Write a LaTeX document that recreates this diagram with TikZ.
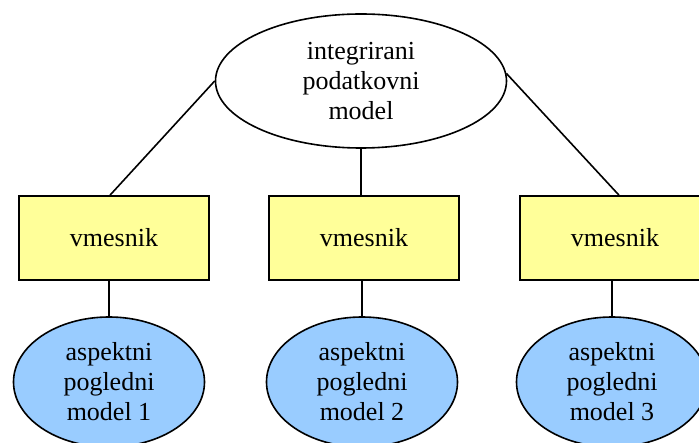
\documentclass[tikz,border=0pt]{standalone}
\usepackage{fontspec}
\setmainfont{Liberation Serif}
\usetikzlibrary{shapes.geometric}
\definecolor{boxyellow}{HTML}{FFFF99}
\definecolor{ellblue}{HTML}{99CCFF}
\begin{document}
\begin{tikzpicture}[x=1pt,y=-1pt,
  every node/.style={font=\fontsize{26}{30}\selectfont, align=center, inner sep=0pt},
  topell/.style={ellipse, draw=black, line width=1.6pt, fill=white, minimum width=291pt, minimum height=134pt},
  midbox/.style={rectangle, draw=black, line width=1.6pt, fill=boxyellow, minimum width=190pt, minimum height=84pt},
  aspell/.style={ellipse, draw=black, line width=1.6pt, fill=ellblue, minimum width=191pt, minimum height=130pt},
  conn/.style={draw=black, line width=1.6pt}]
\useasboundingbox (0,0) rectangle (699,443);
\node[topell] (top) at (361,81) {integrirani\\podatkovni\\model};
\node[midbox] (b1) at (114,238) {vmesnik};
\node[midbox] (b2) at (364,238) {vmesnik};
\node[midbox] (b3) at (615,238) {vmesnik};
\node[aspell] (e1) at (109,382) {aspektni\\pogledni\\model 1};
\node[aspell] (e2) at (362,382) {aspektni\\pogledni\\model 2};
\node[aspell] (e3) at (612,382) {aspektni\\pogledni\\model 3};
\path[conn] (top.180) -- ([xshift=-4pt]b1.north);
\path[conn] (top.south) -- (top.south |- b2.north);
\path[conn] (top.3) -- ([xshift=4pt]b3.north);
\path[conn] (e1.north |- b1.south) -- (e1.north);
\path[conn] (e2.north |- b2.south) -- (e2.north);
\path[conn] (e3.north |- b3.south) -- (e3.north);
\end{tikzpicture}
\end{document}
